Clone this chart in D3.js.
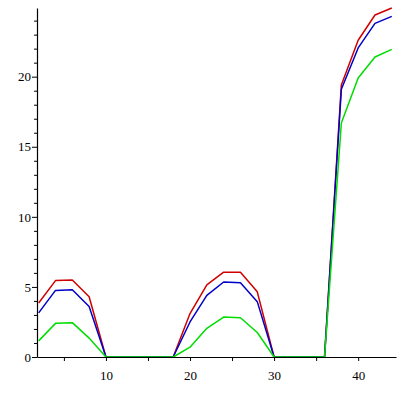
<!DOCTYPE html>
<html>
<head>
<meta charset="utf-8">
<script src="https://cdn.jsdelivr.net/npm/d3@7"></script>
<style>
  body { margin: 0; background: #fff; }
</style>
</head>
<body>
<div id="chart"></div>
<script>
const xs = [2, 4, 6, 8, 10, 12, 14, 16, 18, 20, 22, 24, 26, 28, 30, 32, 34, 36, 38, 40, 42, 44];
const redVals   = [3.85, 5.45, 5.5, 4.3, 0, 0, 0, 0, 0, 3.1, 5.15, 6.05, 6.05, 4.65, 0, 0, 0, 0, 19.4, 22.6, 24.4, 24.9];
const blueVals  = [3.15, 4.75, 4.8, 3.6, 0, 0, 0, 0, 0, 2.5, 4.4, 5.35, 5.3, 3.95, 0, 0, 0, 0, 19.1, 22.05, 23.8, 24.3];
const greenVals = [1.15, 2.4, 2.45, 1.35, 0, 0, 0, 0, 0, 0.7, 2.05, 2.85, 2.8, 1.75, 0, 0, 0, 0, 16.7, 19.9, 21.4, 21.95];
const xTicks = [5, 10, 15, 20, 25, 30, 35, 40];
const xLabels = [10, 20, 30, 40];
const yTicks = d3.range(0, 25);
const yLabels = [0, 5, 10, 15, 20];

const series = [
    { name: 'red', values: redVals, color: '#d00000' },
    { name: 'blue', values: blueVals, color: '#0000c8' },
    { name: 'green', values: greenVals, color: '#00dd00' }
];

const width = 400, height = 400;
const plotLeft = 37, plotRight = 396, plotTop = 8, plotBottom = 357;
const labelFont = '"Liberation Serif", "Times New Roman", serif';

const svg = d3.select('#chart').append('svg')
    .attr('width', width)
    .attr('height', height);

const xScale = d3.scaleLinear().domain([1.8, 44.5]).range([plotLeft, plotRight]);
const yScale = d3.scaleLinear().domain([0, 24.9]).range([plotBottom, plotTop]);

// lines first, axes on top
const line = d3.line()
    .x((d, i) => xScale(xs[i]))
    .y(d => yScale(d));

svg.selectAll('path.series')
    .data(series)
    .enter()
    .append('path')
    .attr('class', 'series')
    .attr('d', d => line(d.values))
    .attr('fill', 'none')
    .attr('stroke', d => d.color)
    .attr('stroke-width', 1.5)
    .attr('stroke-linejoin', 'round');

// x axis
const xAxis = d3.axisBottom(xScale)
    .tickValues(xTicks)
    .tickSize(4)
    .tickSizeOuter(0)
    .tickFormat(d => xLabels.includes(d) ? d : '');

const gx = svg.append('g')
    .attr('transform', 'translate(0,' + plotBottom + ')')
    .call(xAxis)
    .attr('font-family', labelFont)
    .attr('font-size', 13);
gx.selectAll('.tick text').attr('dy', '1.2em');
gx.select('.domain').attr('stroke', '#000').attr('stroke-width', 1.2);

// y axis
const yAxis = d3.axisLeft(yScale)
    .tickValues(yTicks)
    .tickSize(3)
    .tickSizeOuter(0)
    .tickFormat(d => yLabels.includes(d) ? d : '');

const gy = svg.append('g')
    .attr('transform', 'translate(' + plotLeft + ',0)')
    .call(yAxis)
    .attr('font-family', labelFont)
    .attr('font-size', 13);
gy.selectAll('.tick')
    .filter(d => yLabels.includes(d))
    .select('line')
    .attr('x2', -5);
gy.selectAll('.tick text').attr('x', -6);
gy.select('.domain').attr('stroke', '#000').attr('stroke-width', 1.2);
</script>
</body>
</html>
